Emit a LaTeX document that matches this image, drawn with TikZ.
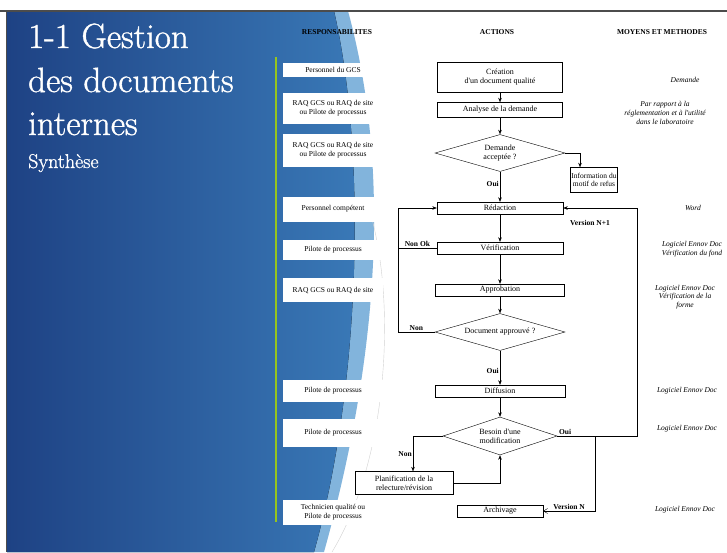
\documentclass[tikz,border=0pt]{standalone}
\usepackage{fontspec}
\newfontfamily\tnr{Liberation Serif}
\newfontfamily\titrefont{Latin Modern Roman}[FakeBold=1.2]
\usetikzlibrary{shapes.geometric, arrows.meta, positioning}
\definecolor{fondG}{RGB}{30,66,132}
\definecolor{fondD}{RGB}{58,122,184}
\definecolor{vague}{RGB}{130,180,220}
\definecolor{barre}{RGB}{150,196,30}
\newcommand\petit{\fontsize{7.5}{8.6}\selectfont}
\newcommand\moyenpetit{\fontsize{8}{9}\selectfont}
\tikzset{
    >={Stealth[length=4.5pt,width=3.5pt]}, % small filled arrow heads
    action/.style={draw, thin, fill=white, minimum height=12pt, inner sep=1pt, font={\tnr\moyenpetit}, align=center}, % boxes of the flow
    test/.style={draw, thin, diamond, shape aspect=3.5, inner sep=0pt, fill=white, font={\tnr\moyenpetit}, align=center}, % the questions
    resp/.style={fill=white, minimum width=100pt, inner sep=1pt, font={\tnr\petit}, align=center}, % who does it
    moyen/.style={font={\tnr\itshape\petit}, align=center}, % tools on the right
    lbl/.style={font={\tnr\bfseries\petit}, inner sep=1pt}, % Oui / Non on the arrows
    entete/.style={font={\tnr\bfseries\petit}}, % column titles
    titre/.style={text=white, font={\titrefont\fontsize{35}{43}\selectfont}, anchor=base west, inner sep=0pt},
}

\begin{document}
\begin{tikzpicture}[x=1pt, y=-1pt]
\useasboundingbox (0,0) rectangle (727,552);
% slide background
\fill[white] (0,0) rectangle (727,552);
\fill[vague] (7,11) -- (348,11) .. controls (386,150) and (386,330) .. (324,552) -- (7,552) -- cycle;
\fill[left color=fondG, right color=fondD] (7,11) -- (334,11) .. controls (366,150) and (362,380) .. (314,552) -- (7,552) -- cycle;
\draw[gray!35, thin] (368,205) .. controls (398,300) and (388,460) .. (332,552);
\draw[black!70, line width=1.2pt] (0,11) -- (727,11);
\draw[black!70, line width=0.8pt] (6,11) -- (6,552);
\draw[barre, line width=2.5pt] (276,57) -- (276,522);

% title
\node[titre] (t1) at (28,48) {1-1 Gestion};
\node[titre] (t2) at (28,92) {des documents};
\node[titre] (t3) at (28,135) {internes};
\node[titre, font={\titrefont\fontsize{20}{24}\selectfont}] (t4) at (28,168) {Synthèse};

% columns
\node[entete] (h1) at (337,32) {RESPONSABILITES};
\node[entete] (h2) at (497,32) {ACTIONS};
\node[entete] (h3) at (662,32) {MOYENS ET METHODES};

% responsibilities
\node[resp, minimum height=14pt] (r1) at (333,70) {Personnel du GCS};
\node[resp, minimum height=31pt] (r2) at (333,108) {RAQ GCS ou RAQ de site\\ou Pilote de processus};
\node[resp, minimum height=33pt] (r3) at (333,150) {RAQ GCS ou RAQ de site\\ou Pilote de processus};
\node[resp, minimum height=25pt] (r4) at (333,209) {Personnel compétent};
\node[resp, minimum height=20pt] (r5) at (333,250) {Pilote de processus};
\node[resp, minimum height=24pt] (r6) at (333,290) {RAQ GCS ou RAQ de site};
\node[resp, minimum height=22pt] (r7) at (333,391) {Pilote de processus};
\node[resp, minimum height=28pt] (r8) at (333,433) {Pilote de processus};
\node[resp, minimum height=25pt] (r9) at (333,512) {Technicien qualité ou\\Pilote de processus};

% actions
\node[action, minimum width=125pt, minimum height=30pt] (creation) at (500,77) {Création\\d'un document qualité};
\node[action, minimum width=125pt, minimum height=15pt] (analyse) at (500,110) {Analyse de la demande};
\node[test, minimum width=130pt, minimum height=37pt] (accept) at (500,153) {Demande\\acceptée ?};
\node[action, minimum width=46pt, minimum height=25pt, font={\tnr\petit}] (refus) at (594,180) {Information du\\motif de refus};
\node[action, minimum width=126pt] (redaction) at (500,208) {Rédaction};
\node[action, minimum width=126pt] (verif) at (500,248) {Vérification};
\node[action, minimum width=129pt] (approb) at (500,290) {Approbation};
\node[test, minimum width=130pt, minimum height=37pt] (approuve) at (500,332) {Document approuvé ?};
\node[action, minimum width=130pt] (diffusion) at (500,391) {Diffusion};
\node[test, minimum width=114pt, minimum height=38pt] (besoin) at (500,436) {Besoin d'une\\modification};
\node[action, minimum width=98pt, minimum height=23pt] (planif) at (404,483) {Planification de la\\relecture/révision};
\node[action, minimum width=86pt] (archivage) at (500,511) {Archivage};
\node[lbl] (vn1) at (590,223) {Version N+1};

% tools
\node[moyen] (m1) at (685,80) {Demande};
\node[moyen] (m2) at (665,113) {Par rapport à la\\réglementation et à l'utilité\\dans le laboratoire};
\node[moyen] (m3) at (693,208) {Word};
\node[moyen] (m4) at (692,249) {Logiciel Ennov Doc\\Vérification du fond};
\node[moyen] (m5) at (685,297) {Logiciel Ennov Doc\\Vérification de la\\forme};
\node[moyen] (m6) at (687,391) {Logiciel Ennov Doc};
\node[moyen] (m7) at (687,429) {Logiciel Ennov Doc};
\node[moyen] (m8) at (685,510) {Logiciel Ennov Doc};

\coordinate (loopL) at (398,0);
\coordinate (loopR) at (637,0);
\coordinate (split) at (595,0);

% arrows
\draw[->] (creation) -- (analyse);
\draw[->] (analyse) -- (accept);
\draw[->] (accept.east) -| ([xshift=-14pt]refus.north);
\draw[->] (accept) -- node[lbl, pos=0.4, left] {Oui} (redaction);
\draw[->] (redaction) -- (verif);
\draw[->] (verif) -- (approb);
\draw[->] (approb) -- (approuve);
\draw[->] (approuve) -- node[lbl, pos=0.6, left] {Oui} (diffusion);
\draw[->] (diffusion) -- (besoin);
\draw (verif.west) -- node[lbl, above] {Non Ok} (verif.west -| loopL);
\draw[->] (approuve.west) -- node[lbl, above] {Non} (approuve.west -| loopL) |- (redaction.west);
\draw[->] (besoin.east) -- node[lbl, pos=0.1, above] {Oui} (besoin.east -| loopR) |- (redaction.east);
\draw[-{Straight Barb[length=4pt,width=5pt]}] (besoin.east -| split) |- node[lbl, pos=0.75, above] {Version N} (archivage.east);
\draw[->] (besoin.west) -| node[lbl, pos=0.75, left] {Non} ([xshift=9pt]planif.north);
\draw[->] (planif.east) -| (besoin.south);
\end{tikzpicture}
\end{document}
